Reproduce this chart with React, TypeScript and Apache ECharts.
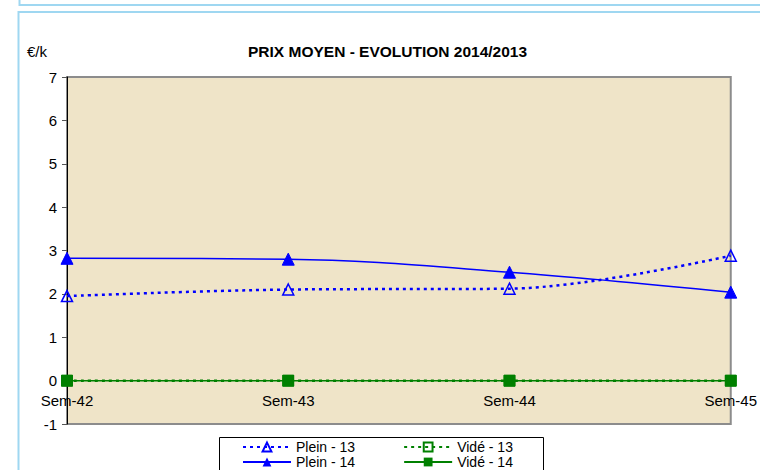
import React, { useEffect, useRef } from "react";
import * as echarts from "echarts";

const categories = ["Sem-42", "Sem-43", "Sem-44", "Sem-45"];
const plein13 = [1.95, 2.1, 2.12, 2.88];
const plein14 = [2.82, 2.8, 2.5, 2.04];
const vide13 = [0, 0, 0, 0];
const vide14 = [0, 0, 0, 0];
const yTicks = { min: -1, max: 7, interval: 1 };
const titleText = "PRIX MOYEN - EVOLUTION 2014/2013";
const unitText = "€/k";

const FONT = "'Liberation Sans', Arial, sans-serif";
const BLUE = "#0000ff";
const GREEN = "#008000";
const FRAME = "#9fd7f1";

const GRID_TOP = 77;
const GRID_BOTTOM = 46;
const CHART_H = 470;

export default function App() {
  const ref = useRef<HTMLDivElement>(null);
  useEffect(() => {
    if (!ref.current) return;
    const chart = echarts.init(ref.current, undefined, { renderer: "svg" });
    const plotH = CHART_H - GRID_TOP - GRID_BOTTOM;
    const zeroOffset = -(plotH * (0 - yTicks.min)) / (yTicks.max - yTicks.min);
    chart.setOption({
      animation: false,
      backgroundColor: "#ffffff",
      textStyle: { fontFamily: FONT },
      title: [
        {
          text: titleText,
          left: 248,
          top: 43,
          padding: 0,
          textStyle: { fontFamily: FONT, fontSize: 15.5, fontWeight: "bold", color: "#000" },
        },
        {
          text: unitText,
          left: 27,
          top: 44,
          padding: 0,
          textStyle: { fontFamily: FONT, fontSize: 15, fontWeight: "normal", color: "#000" },
        },
      ],
      grid: {
        left: 67,
        right: 24,
        top: GRID_TOP,
        bottom: GRID_BOTTOM,
        show: true,
        backgroundColor: "#efe4c8",
        borderColor: "#8c8c8c",
        borderWidth: 2,
      },
      legend: [
        {
          data: ["Plein - 13", "Vidé - 13"],
          left: 242,
          top: 440,
          padding: 0,
          itemGap: 48,
          itemWidth: 48,
          itemHeight: 11,
          textStyle: { fontFamily: FONT, fontSize: 14, color: "#000", lineHeight: 14 },
        },
        {
          data: ["Plein - 14", "Vidé - 14"],
          left: 242,
          top: 455,
          padding: 0,
          itemGap: 48,
          itemWidth: 48,
          itemHeight: 11,
          textStyle: { fontFamily: FONT, fontSize: 14, color: "#000", lineHeight: 14 },
        },
      ],
      xAxis: {
        type: "category",
        data: categories,
        boundaryGap: false,
        offset: zeroOffset,
        axisLine: { show: true, onZero: false, lineStyle: { color: "#000", width: 1 } },
        axisTick: { show: false },
        axisLabel: { margin: 12, fontFamily: FONT, fontSize: 15, color: "#000" },
        splitLine: { show: false },
      },
      yAxis: {
        type: "value",
        min: yTicks.min,
        max: yTicks.max,
        interval: yTicks.interval,
        axisLine: { show: true, onZero: false, lineStyle: { color: "#000", width: 1 } },
        axisTick: { show: true, length: 5, lineStyle: { color: "#555" } },
        axisLabel: { margin: 10, fontFamily: FONT, fontSize: 15, color: "#000" },
        splitLine: { show: false },
      },
      series: [
        {
          name: "Plein - 13",
          type: "line",
          data: plein13,
          smooth: 0.35,
          symbol: "triangle",
          symbolSize: 11,
          itemStyle: { color: "#ffffff00", borderColor: BLUE, borderWidth: 1.5 },
          lineStyle: { color: BLUE, width: 2.5, type: [3, 4] },
          z: 2,
        },
        {
          name: "Vidé - 13",
          type: "line",
          data: vide13,
          smooth: 0.35,
          symbol: "rect",
          symbolSize: 10,
          itemStyle: { color: "#ffffff00", borderColor: GREEN, borderWidth: 1.5 },
          lineStyle: { color: GREEN, width: 2.5, type: [3, 4] },
          z: 2,
        },
        {
          name: "Plein - 14",
          type: "line",
          data: plein14,
          smooth: 0.35,
          symbol: "triangle",
          symbolSize: 12,
          itemStyle: { color: BLUE, borderColor: BLUE },
          lineStyle: { color: BLUE, width: 1.5, type: "solid" },
          z: 3,
        },
        {
          name: "Vidé - 14",
          type: "line",
          data: vide14,
          smooth: 0.35,
          symbol: "rect",
          symbolSize: 11,
          itemStyle: { color: GREEN, borderColor: GREEN },
          lineStyle: { color: GREEN, width: 1.5, type: "solid" },
          z: 3,
        },
      ],
      graphic: [
        {
          type: "polyline",
          silent: true,
          shape: { points: [[19.5, 0], [19.5, 5], [760, 5]] },
          style: { stroke: FRAME, lineWidth: 2, fill: null },
        },
        {
          type: "polyline",
          silent: true,
          shape: { points: [[18.5, 470], [18.5, 12], [760, 12]] },
          style: { stroke: FRAME, lineWidth: 2, fill: null },
        },
        {
          type: "rect",
          silent: true,
          z: -1,
          shape: { x: 219.5, y: 437.5, width: 324, height: 40 },
          style: { stroke: "#000", lineWidth: 1, fill: "#fff" },
        },
      ],
    });
    return () => chart.dispose();
  }, []);
  return (
    <div
      ref={ref}
      style={{ position: "absolute", left: 0, top: 0, width: 760, height: 470 }}
    />
  );
}
